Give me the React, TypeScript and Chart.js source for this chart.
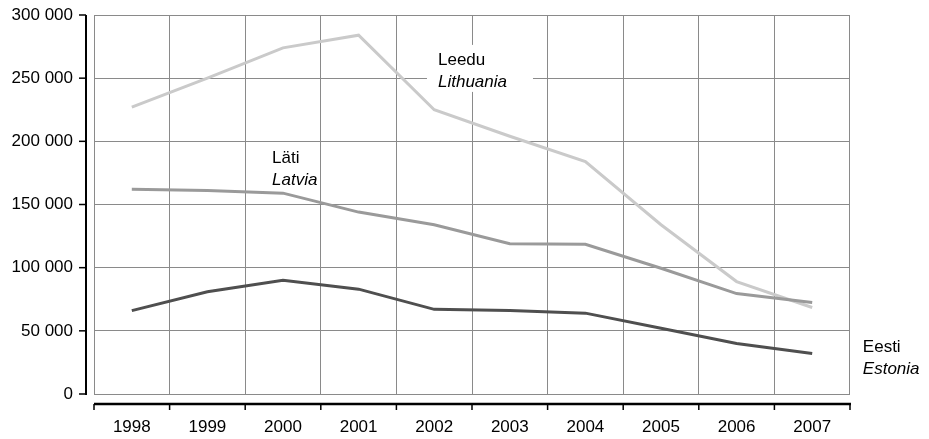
import React, { useEffect, useRef } from "react";
import { Chart, registerables } from "chart.js";

Chart.register(...registerables);

const years = ["1998", "1999", "2000", "2001", "2002", "2003", "2004", "2005", "2006", "2007"];
const lithuania = [227000, 250000, 274000, 284000, 225000, 204000, 184000, 134000, 89000, 68500];
const latvia = [162000, 161000, 159000, 144000, 134000, 119000, 118500, 99500, 79500, 72500];
const estonia = [66000, 81000, 90000, 83000, 67000, 66000, 64000, 52000, 40000, 32000];
const yTicks = [0, 50000, 100000, 150000, 200000, 250000, 300000];

// series labels: [first line, italic second line, x (category index), y (value)]
const seriesLabels = [
  { main: "Leedu", sub: "Lithuania", xAt: 4.05, yAt: 260500, boxed: true },
  { main: "Läti", sub: "Latvia", xAt: 1.855, yAt: 182700, boxed: false },
  { main: "Eesti", sub: "Estonia", xAt: 9.67, yAt: 33000, boxed: false },
];

const FONT_FAMILY = '"Liberation Sans", Arial, Helvetica, sans-serif';

const fmt = (v: number) => String(v).replace(/\B(?=(\d{3})+(?!\d))/g, " ");

const axesPlugin = {
  id: "offsetAxes",
  beforeDatasetsDraw(chart: any) {
    const ctx = chart.ctx;
    const xs = chart.scales.x;
    const ys = chart.scales.y;
    ctx.save();
    for (const l of seriesLabels) {
      if (!l.boxed) continue;
      const x = xs.getPixelForValue(l.xAt);
      const y = ys.getPixelForValue(l.yAt);
      ctx.fillStyle = "#ffffff";
      ctx.fillRect(x - 11, y - 20, 106, 47);
    }
    ctx.restore();
  },
  afterDraw(chart: any) {
    const ctx = chart.ctx;
    const area = chart.chartArea;
    const xs = chart.scales.x;
    const ys = chart.scales.y;
    ctx.save();
    ctx.strokeStyle = "#000000";
    // y axis line
    ctx.lineWidth = 2;
    const axX = area.left - 8;
    ctx.beginPath();
    ctx.moveTo(axX, area.top);
    ctx.lineTo(axX, area.bottom + 1);
    ctx.stroke();
    ctx.lineWidth = 1.5;
    for (const t of yTicks) {
      const y = ys.getPixelForValue(t);
      ctx.beginPath();
      ctx.moveTo(axX - 7, y);
      ctx.lineTo(axX, y);
      ctx.stroke();
    }
    // x axis line
    const axY = area.bottom + 10;
    ctx.lineWidth = 2.5;
    ctx.beginPath();
    ctx.moveTo(area.left, axY);
    ctx.lineTo(area.right + 1, axY);
    ctx.stroke();
    ctx.lineWidth = 1.5;
    for (let i = 0; i <= years.length; i++) {
      const x = xs.getPixelForValue(i - 0.5);
      ctx.beginPath();
      ctx.moveTo(x, axY);
      ctx.lineTo(x, axY + 6);
      ctx.stroke();
    }
    // series labels
    ctx.fillStyle = "#000000";
    ctx.textAlign = "left";
    ctx.textBaseline = "alphabetic";
    for (const l of seriesLabels) {
      const x = xs.getPixelForValue(l.xAt);
      const y = ys.getPixelForValue(l.yAt);
      ctx.font = `17px ${FONT_FAMILY}`;
      ctx.fillText(l.main, x, y);
      ctx.font = `italic 17px ${FONT_FAMILY}`;
      ctx.fillText(l.sub, x, y + 22);
    }
    ctx.restore();
  },
};

export default function App() {
  const ref = useRef<HTMLCanvasElement | null>(null);

  useEffect(() => {
    if (!ref.current) return;
    const gridColor = "#8a8a8a";
    const chart = new Chart(ref.current, {
      type: "line",
      data: {
        labels: years,
        datasets: [
          { label: "Eesti", data: estonia, borderColor: "#4f4f4f", borderWidth: 3, pointRadius: 0, fill: false, tension: 0 },
          { label: "Läti", data: latvia, borderColor: "#9a9a9a", borderWidth: 3, pointRadius: 0, fill: false, tension: 0 },
          { label: "Leedu", data: lithuania, borderColor: "#cacaca", borderWidth: 3, pointRadius: 0, fill: false, tension: 0 },
        ],
      },
      options: {
        responsive: false,
        animation: false,
        layout: { padding: { top: 15, right: 79, left: 0, bottom: 0 } },
        plugins: { legend: { display: false }, tooltip: { enabled: false }, title: { display: false } },
        scales: {
          x: {
            type: "category",
            offset: true,
            grid: { color: gridColor, lineWidth: 1, offset: true, drawTicks: false },
            border: { display: false },
            ticks: { color: "#000", font: { family: FONT_FAMILY, size: 17 }, padding: 23, maxRotation: 0, autoSkip: false },
            afterFit: (s: any) => {
              s.height = 45;
              s.paddingLeft = 0;
              s.paddingRight = 0;
            },
          },
          y: {
            min: 0,
            max: 300000,
            grid: { color: gridColor, lineWidth: 1, drawTicks: false },
            border: { display: false },
            ticks: {
              stepSize: 50000,
              color: "#000",
              font: { family: FONT_FAMILY, size: 17 },
              padding: 21,
              callback: (v: any) => fmt(Number(v)),
            },
            afterFit: (s: any) => {
              s.width = 94;
              s.paddingTop = 0;
              s.paddingBottom = 0;
            },
          },
        },
      },
      plugins: [axesPlugin],
    });
    return () => chart.destroy();
  }, []);

  return (
    <div style={{ position: "absolute", left: 0, top: 0, width: 929, height: 439, background: "#fff" }}>
      <canvas ref={ref} width={929} height={439} style={{ display: "block" }} />
    </div>
  );
}
